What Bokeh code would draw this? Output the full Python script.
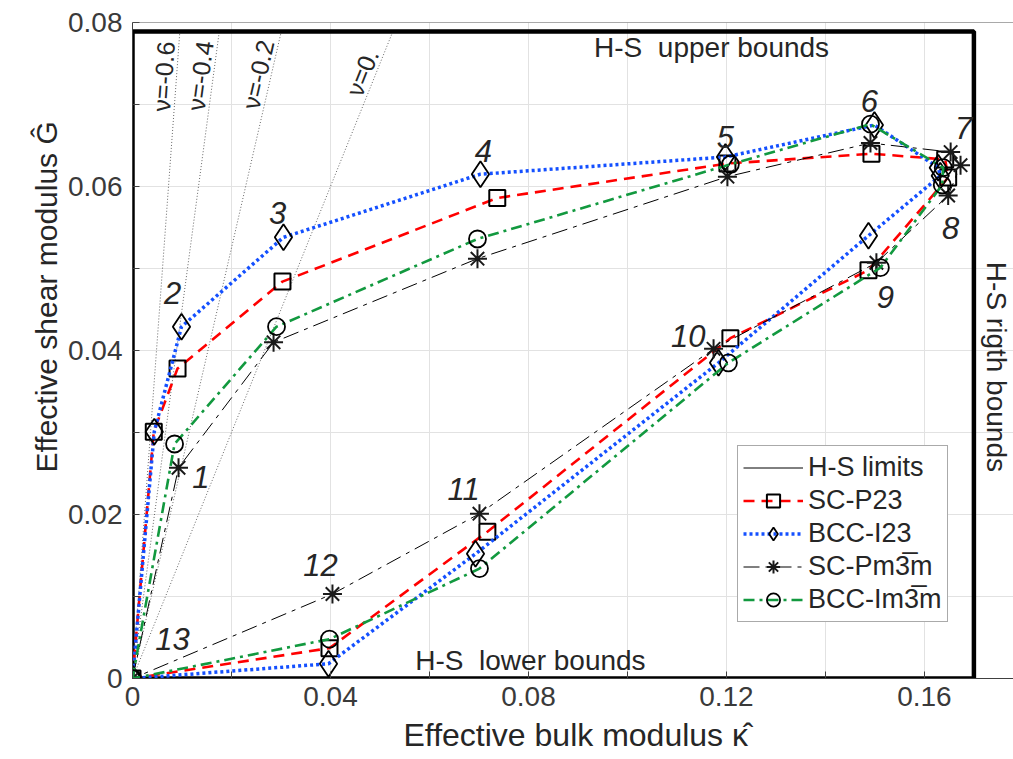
import math
from bokeh.plotting import figure
from bokeh.models import Range1d, FixedTicker, Span, Title, Legend, LegendItem, CustomJSTickFormatter
from bokeh.core.properties import value
from bokeh.embed import file_html
from bokeh.resources import INLINE

FONT = "Liberation Sans"
TXT = "#262626"

# Hashin-Shtrikman limits (normalised bulk / shear moduli)
hs_k_max = 0.170
hs_g_max = 0.0789

# isotropic Poisson-ratio reference lines
nu_values = [-0.6, -0.4, -0.2, 0.0]
nu_labels = ["ν=-0.6", "ν=-0.4", "ν=-0.2", "ν=0."]

# point numbering along each path
point_ids = ["1", "2", "3", "4", "5", "6", "7", "8", "9", "10", "11", "12", "13"]

# SC-P23
sc_p23_k = [0.0043, 0.0091, 0.0303, 0.0737, 0.1202, 0.1493, 0.1642, 0.1648, 0.1487, 0.1208, 0.0717, 0.0398, 0.0]
sc_p23_g = [0.0301, 0.0378, 0.0484, 0.0586, 0.0628, 0.0640, 0.0633, 0.0611, 0.0498, 0.0415, 0.0179, 0.0037, 0.0]

# BCC-I23
bcc_i23_k = [0.0044, 0.0099, 0.0305, 0.0703, 0.1198, 0.1499, 0.1628, 0.1632, 0.1487, 0.1184, 0.0693, 0.0396, 0.0]
bcc_i23_g = [0.0301, 0.0429, 0.0538, 0.0615, 0.0636, 0.0675, 0.0623, 0.0613, 0.0540, 0.0385, 0.0152, 0.0018, 0.0]

# SC-Pm-3m
sc_pm3m_k = [0.0093, 0.0285, 0.0697, 0.1202, 0.1491, 0.1653, 0.1673, 0.1648, 0.1503, 0.1174, 0.0701, 0.0404, 0.0]
sc_pm3m_g = [0.0257, 0.0410, 0.0512, 0.0612, 0.0653, 0.0642, 0.0626, 0.0589, 0.0507, 0.0402, 0.0201, 0.0103, 0.0]

# BCC-Im-3m
bcc_im3m_k = [0.0085, 0.0291, 0.0697, 0.1208, 0.1491, 0.1638, 0.1636, 0.1511, 0.1204, 0.0701, 0.0398, 0.0]
bcc_im3m_g = [0.0286, 0.0429, 0.0536, 0.0627, 0.0676, 0.0623, 0.0602, 0.0501, 0.0385, 0.0134, 0.0048, 0.0]

# where the point numbers are written (data coordinates)
id_pos_k = [0.0138, 0.0081, 0.0293, 0.0709, 0.1198, 0.1489, 0.1679, 0.1653, 0.1521, 0.1123, 0.0669, 0.0380, 0.0081]
id_pos_g = [0.0246, 0.0470, 0.0568, 0.0643, 0.0660, 0.0704, 0.0671, 0.0550, 0.0465, 0.0418, 0.0231, 0.0138, 0.0048]

X_END = 0.178
Y_END = 0.08
FRAME_W = 1013 - 132
FRAME_H = 759 - 22 - 81

p = figure(width=1013, height=759, x_range=Range1d(0, X_END), y_range=Range1d(0, Y_END),
           output_backend="svg", toolbar_location=None,
           min_border_left=132, min_border_right=0, min_border_top=22, min_border_bottom=81)
p.outline_line_color = None
p.background_fill_color = "white"

fmt = CustomJSTickFormatter(code="return tick === 0 ? '0' : tick.toFixed(2);")
p.xaxis.ticker = FixedTicker(ticks=[0, 0.04, 0.08, 0.12, 0.16], minor_ticks=[0.02, 0.06, 0.10, 0.14])
p.yaxis.ticker = FixedTicker(ticks=[0, 0.02, 0.04, 0.06, 0.08], minor_ticks=[0.01, 0.03, 0.05, 0.07])
for ax in (p.xaxis[0], p.yaxis[0]):
    ax.formatter = fmt
    ax.major_label_text_font = FONT
    ax.major_label_text_font_size = "28px"
    ax.major_label_text_color = "#3a3a3a"
    ax.axis_line_color = "#404040"
    ax.axis_line_width = 1
    ax.major_tick_in = 7
    ax.major_tick_out = 0
    ax.minor_tick_in = 7
    ax.minor_tick_out = 0
    ax.major_tick_line_color = "#404040"
    ax.minor_tick_line_color = "#404040"
p.xaxis.major_label_standoff = 8
p.yaxis.major_label_standoff = 10

for g in (p.xgrid[0], p.ygrid[0]):
    g.grid_line_color = "#e2e2e2"
    g.minor_grid_line_color = "#e2e2e2"
    g.grid_line_width = 1
    g.minor_grid_line_width = 1

p.add_layout(Span(location=Y_END, dimension="width", line_color="#555555", line_width=1))

# axis titles
p.add_layout(Title(text="Effective bulk modulus κ\u0302", align="left", offset=271, standoff=13,
                   text_font=FONT, text_font_size="32px", text_font_style="normal", text_color=TXT), "below")
p.add_layout(Title(text="Effective shear modulus Ĝ", align="left", offset=206, standoff=6,
                   text_font=FONT, text_font_size="30px", text_font_style="normal", text_color=TXT), "left")

# Poisson-ratio lines and their labels
px_per_k = FRAME_W / X_END
px_per_g = FRAME_H / Y_END
for nu, lab in zip(nu_values, nu_labels):
    ratio = 3 * (1 - 2 * nu) / (2 * (1 + nu))
    p.line([0, hs_g_max / ratio], [0, hs_g_max], line_color="#404040", line_width=0.8, line_dash="1 2")
    theta = math.atan2(ratio * px_per_g, px_per_k)
    gy = 0.0733
    d = 13
    p.text(x=[gy / ratio], y=[gy], text=[lab], angle=theta,
           x_offset=-d * math.sin(theta), y_offset=-d * math.cos(theta),
           text_align="center", text_baseline="middle",
           text_font=value(FONT), text_font_size="25px", text_color=TXT)

# H-S limit box
hs_x = [0, 0, hs_k_max, hs_k_max, 0]
hs_y = [0, hs_g_max, hs_g_max, 0, 0]
r_hs = p.line(hs_x, hs_y, line_color="black", line_width=1)
p.line(hs_x, hs_y, line_color="black", line_width=4.5)


def loop(vals):
    return [vals[-1]] + list(vals)


r1l = p.line(loop(sc_p23_k), loop(sc_p23_g), line_color="#ff0000", line_width=2.6, line_dash="11 7")
r1m = p.scatter(sc_p23_k, sc_p23_g, marker="square", size=16, fill_color=None, line_color="black", line_width=2)

r2l = p.line(loop(bcc_i23_k), loop(bcc_i23_g), line_color="#1450ff", line_width=3.5, line_dash="3 3")
r2m = p.scatter(bcc_i23_k, bcc_i23_g, marker="diamond", size=26, fill_color=None, line_color="black", line_width=1.8)

r3l = p.line(loop(sc_pm3m_k), loop(sc_pm3m_g), line_color="black", line_width=1, line_dash="16 6 4 6")
r3m = p.scatter(sc_pm3m_k, sc_pm3m_g, marker="asterisk", size=19, line_color="#1a1a1a", line_width=2)

r4l = p.line(loop(bcc_im3m_k), loop(bcc_im3m_g), line_color="#12993f", line_width=2.6, line_dash="11 5 3 5")
r4m = p.scatter(bcc_im3m_k, bcc_im3m_g, marker="circle", size=17, fill_color=None, line_color="black", line_width=1.8)

# point numbers
p.text(x=id_pos_k, y=id_pos_g, text=point_ids, text_align="center", text_baseline="middle",
       text_font=value(FONT), text_font_size="31px", text_font_style="italic", text_color=TXT)

# bound annotations
p.text(x=[0.117], y=[0.0769], text=["H-S\u00a0 upper bounds"], text_align="center", text_baseline="middle",
       text_font=value(FONT), text_font_size="28px", text_color=TXT)
p.text(x=[0.0804], y=[0.0022], text=["H-S\u00a0 lower bounds"], text_align="center", text_baseline="middle",
       text_font=value(FONT), text_font_size="28px", text_color=TXT)
p.text(x=[0.1746], y=[0.0380], text=["H-S rigth bounds"], angle=-math.pi / 2, text_align="center",
       text_baseline="middle", text_font=value(FONT), text_font_size="28px", text_color=TXT)

legend = Legend(items=[
    LegendItem(label="H-S limits", renderers=[r_hs]),
    LegendItem(label="SC-P23", renderers=[r1l, r1m]),
    LegendItem(label="BCC-I23", renderers=[r2l, r2m]),
    LegendItem(label="SC-Pm3\u0305m", renderers=[r3l, r3m]),
    LegendItem(label="BCC-Im3\u0305m", renderers=[r4l, r4m]),
], location=(605, 56))
legend.label_text_font = FONT
legend.label_text_font_size = "27px"
legend.label_text_color = TXT
legend.glyph_width = 60
legend.glyph_height = 33
legend.label_height = 33
legend.spacing = 0
legend.padding = 5
legend.margin = 0
legend.label_standoff = 5
legend.border_line_color = "#555555"
legend.border_line_width = 1.5
legend.background_fill_color = "white"
legend.background_fill_alpha = 1
p.add_layout(legend)

open("out.html", "w").write(file_html(p, INLINE))
